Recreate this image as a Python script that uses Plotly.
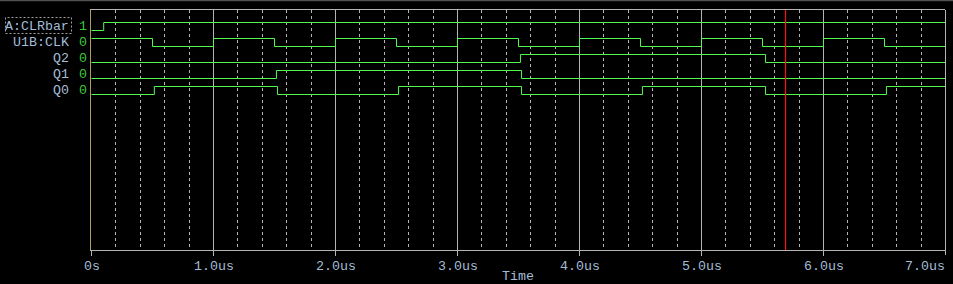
import plotly.graph_objects as go

# ---- data ----
signal_names = ["A:CLRbar", "U1B:CLK", "Q2", "Q1", "Q0"]
clr_t = [0, 0.1, 7.0]
clr_v = [0, 1, 1]
clk_t = [0, 0.5, 1.0, 1.5, 2.0, 2.5, 3.0, 3.5, 4.0, 4.5, 5.0, 5.5, 6.0, 6.5, 7.0]
clk_v = [1, 0, 1, 0, 1, 0, 1, 0, 1, 0, 1, 0, 1, 0, 0]
q2_t = [0, 3.516, 5.525, 7.0]
q2_v = [0, 1, 0, 0]
q1_t = [0, 1.516, 3.525, 7.0]
q1_v = [0, 1, 0, 0]
q0_t = [0, 0.515, 1.525, 2.517, 3.525, 4.516, 5.525, 6.516, 7.0]
q0_v = [0, 1, 0, 1, 0, 1, 0, 1, 1]
cursor_t = 5.689
tick_vals = [0, 1, 2, 3, 4, 5, 6, 7]
tick_text = ["0s", "1.0us", "2.0us", "3.0us", "4.0us", "5.0us", "6.0us", "7.0us"]

series = [(clr_t, clr_v), (clk_t, clk_v), (q2_t, q2_v), (q1_t, q1_v), (q0_t, q0_v)]

GREEN = "#50f850"
GRID = "#b4b4b4"
LABEL = "#a4bcd6"
MONO = "Liberation Mono, Courier New, monospace"
FS = 13.3

L, R, T, B = 91, 8, 10, 34
W, H = 953, 284
PH = H - T - B  # 240
PW = W - L - R  # 854
XOFF = 0.5 / (PW / 7)   # half-pixel shift in data units (crisp lines)
YOFF = 0.5 / (PH / 30)
XMAX = tick_vals[-1] - XOFF


def py(pix):
    return (H - B - pix) / PH


def px(pix):
    return (pix - L) / PW


fig = go.Figure()
annotations = []
for i, (name, (t, v)) in enumerate(zip(signal_names, series)):
    base = 27.5 - 2 * i
    fig.add_trace(go.Scatter(
        x=t, y=[base + lv for lv in v], mode="lines",
        line=dict(color=GREEN, width=1, shape="hv"),
        hoverinfo="skip", showlegend=False))
    # value at cursor
    cur = v[0]
    for tt, vv in zip(t, v):
        if tt <= cursor_t:
            cur = vv
    annotations.append(dict(
        x=px(71), xref="paper", y=base + 0.5, yref="y", text=name,
        showarrow=False, xanchor="right", yanchor="middle",
        font=dict(family=MONO, size=FS, color=LABEL)))
    annotations.append(dict(
        x=px(83), xref="paper", y=base + 0.5, yref="y", text=str(cur),
        showarrow=False, xanchor="center", yanchor="middle",
        font=dict(family=MONO, size=FS, color="#3cc83c")))

# x tick labels (last one kept inside the window)
for k, (tv, tt) in enumerate(zip(tick_vals, tick_text)):
    last = k == len(tick_vals) - 1
    annotations.append(dict(
        x=min(tv, XMAX), xref="x", y=py(266), yref="paper", text=tt,
        showarrow=False, xanchor="right" if last else "center",
        xshift=2 if last else 0,
        yanchor="middle", font=dict(family=MONO, size=FS, color=LABEL)))

annotations.append(dict(
    x=0.5, xref="paper", y=py(276.5), yref="paper", text="Time",
    showarrow=False, xanchor="center", yanchor="middle",
    font=dict(family=MONO, size=FS, color=LABEL)))

shapes = [
    # cursor
    dict(type="line", xref="x", yref="paper", x0=cursor_t, x1=cursor_t, y0=0, y1=1,
         line=dict(color="#ff1010", width=1.2), layer="above"),
    # right border
    dict(type="line", xref="paper", yref="paper", x0=1 + 0.5 / PW, x1=1 + 0.5 / PW,
         y0=-5 / PH, y1=1, line=dict(color=GRID, width=1), layer="above"),
    # selection box
    dict(type="rect", xref="paper", yref="paper",
         x0=px(5.5), x1=px(71.5), y0=py(33.5), y1=py(17.5),
         line=dict(color="#a0a0a0", width=1, dash="2px,2px")),
    # window border top
    dict(type="line", xref="paper", yref="paper", x0=px(0), x1=px(W), y0=py(0.5), y1=py(0.5),
         line=dict(color="#505050", width=1.5)),
]

fig.update_layout(
    width=W, height=H,
    margin=dict(l=L, r=R, t=T, b=B),
    paper_bgcolor="#000000", plot_bgcolor="#000000",
    showlegend=False,
    annotations=annotations, shapes=shapes,
    xaxis=dict(
        range=[-XOFF, XMAX], showgrid=True, gridcolor=GRID, gridwidth=1,
        tickmode="array", tickvals=tick_vals, ticktext=tick_text,
        showticklabels=False,
        ticks="outside", ticklen=5, tickcolor=GRID, tickwidth=1,
        showline=True, linecolor=GRID, linewidth=1, mirror=True,
        zeroline=False, fixedrange=True,
        minor=dict(dtick=0.2, tick0=0, showgrid=True, gridcolor=GRID,
                   griddash="3px,3px", gridwidth=1),
    ),
    yaxis=dict(
        range=[YOFF, 30 + YOFF], showgrid=False, zeroline=False, showticklabels=False,
        ticks="", showline=True, linecolor="#b0a060", linewidth=1, fixedrange=True,
    ),
)

fig.write_html("out.html")
